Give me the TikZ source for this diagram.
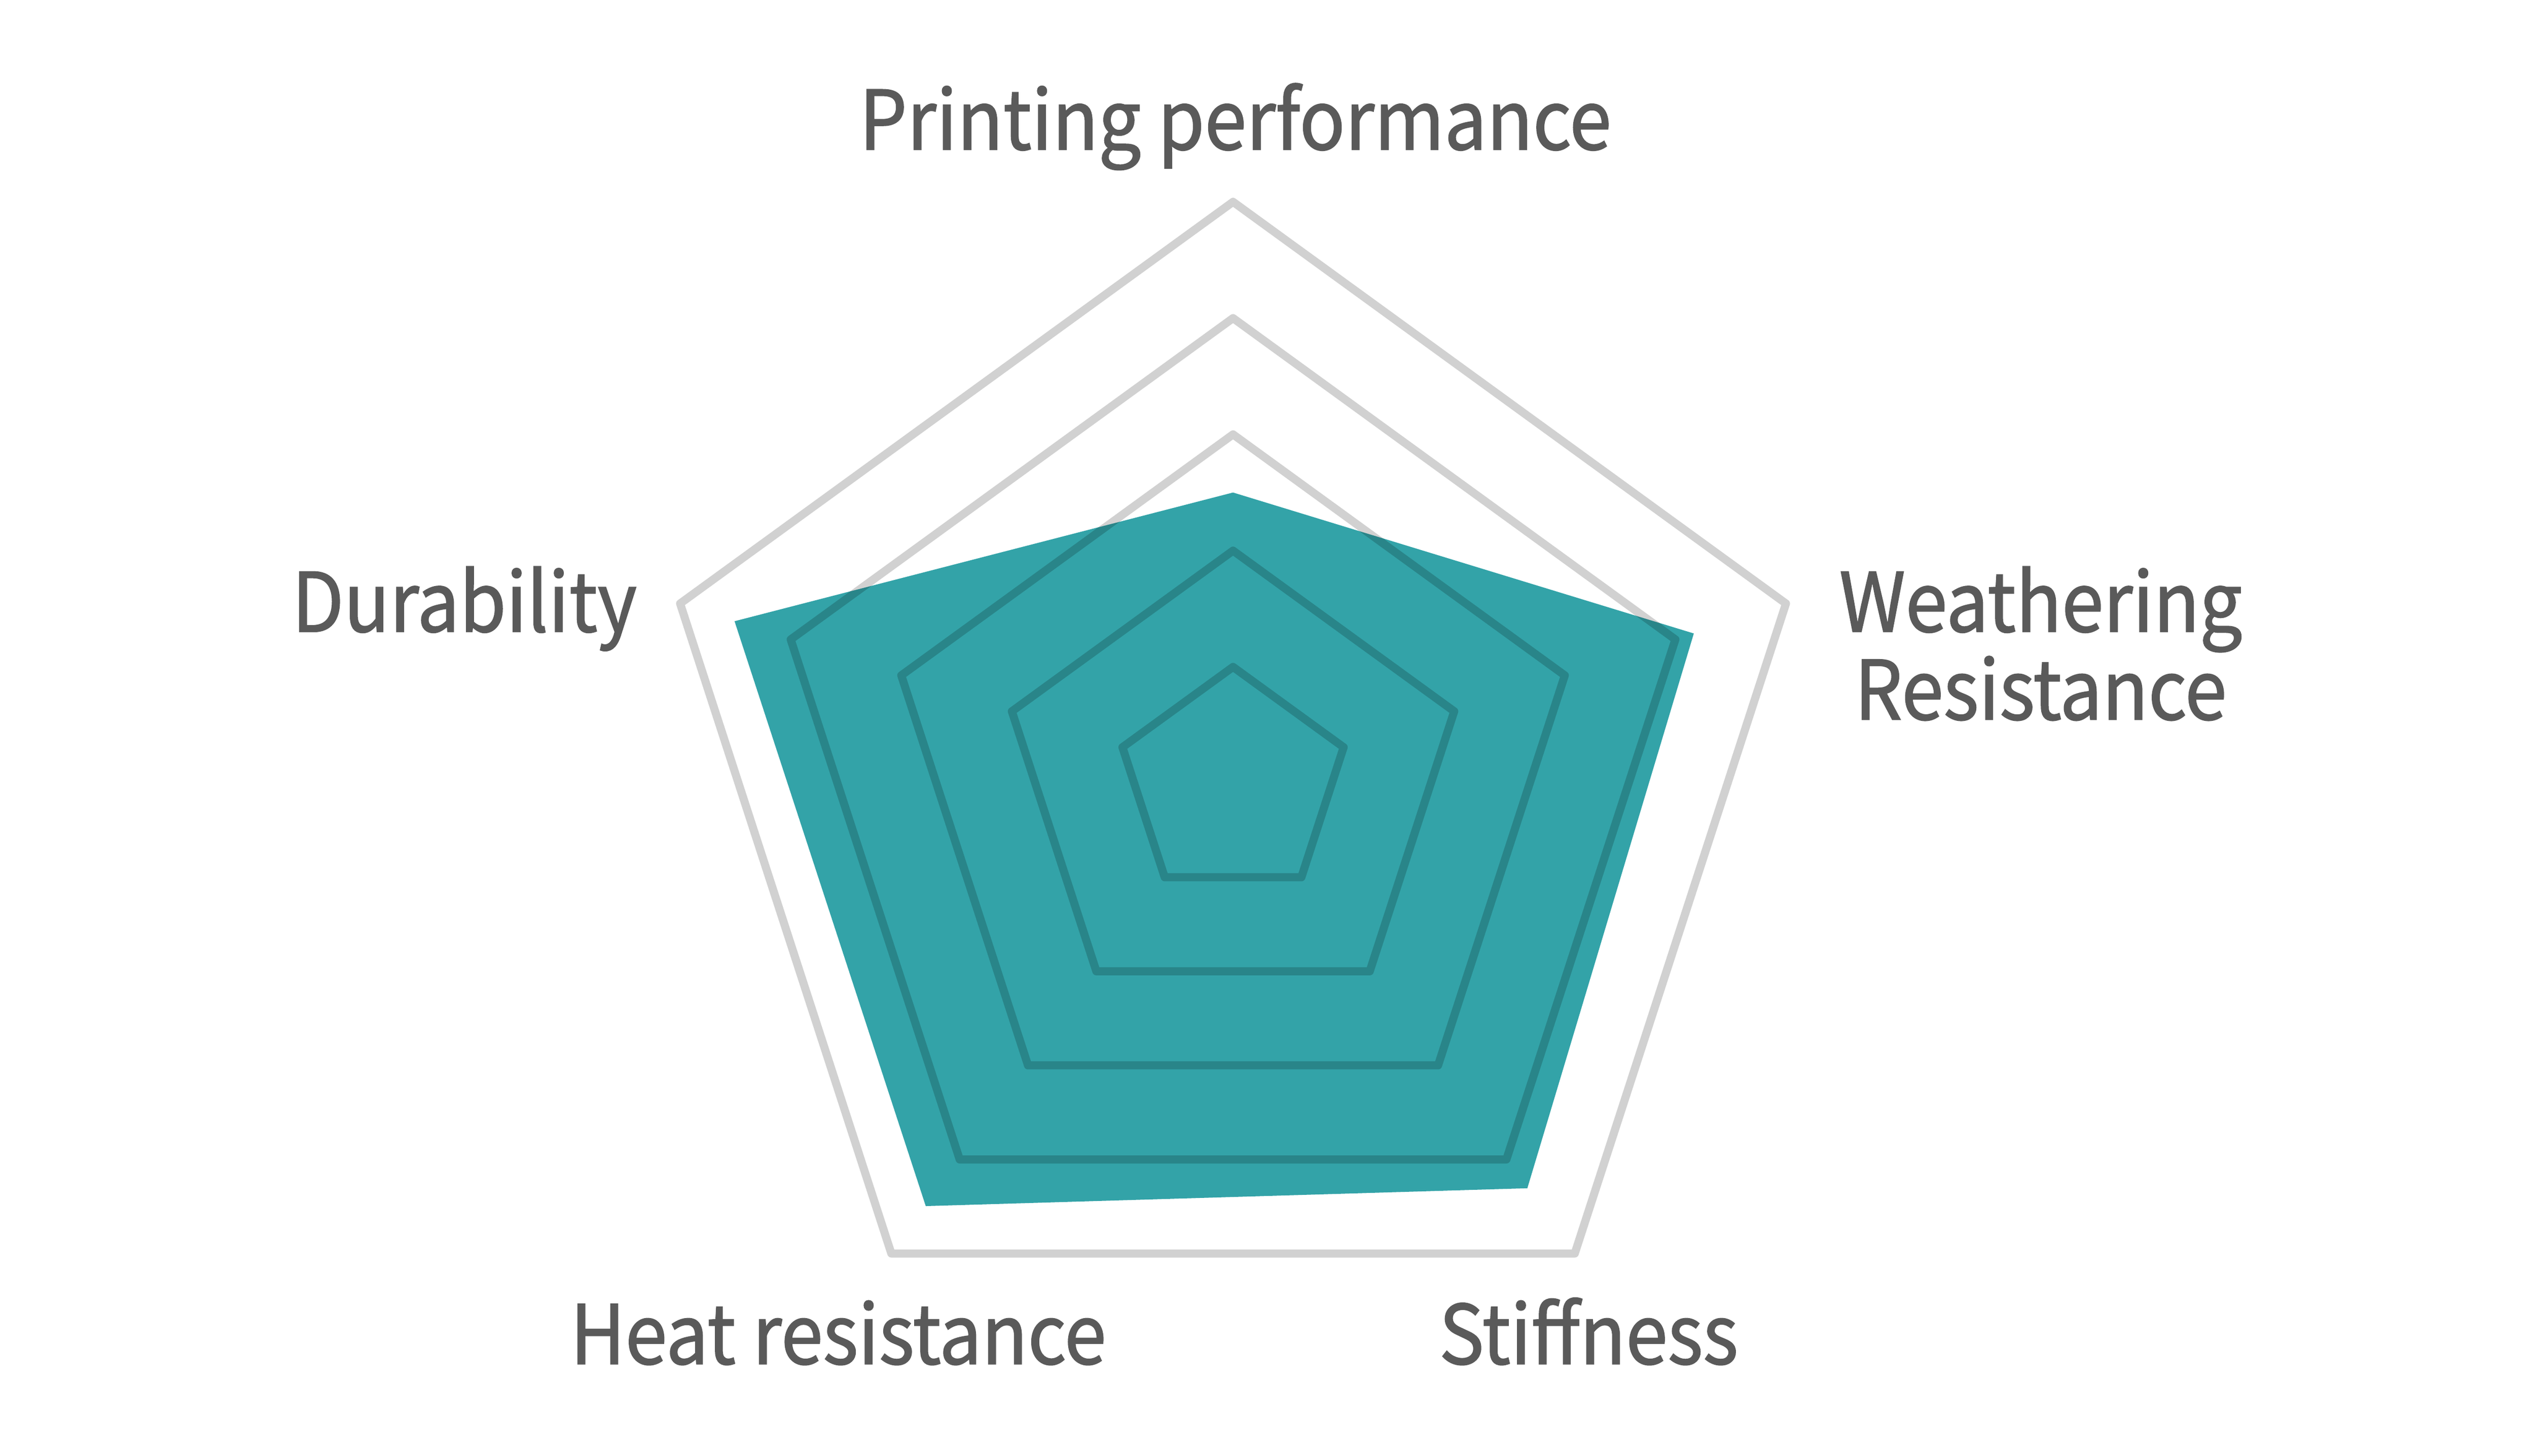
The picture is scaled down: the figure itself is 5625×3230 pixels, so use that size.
\documentclass[tikz,border=0pt]{standalone}
\usepackage{fontspec}
\newfontfamily\lblfont[FakeStretch=0.92,FakeBold=1.2]{Noto Sans CJK SC}
\usetikzlibrary{calc}
\definecolor{tealfill}{HTML}{33A3A8}
\definecolor{txtgray}{HTML}{5A5A5A}
\begin{document}
\begin{tikzpicture}[x=0.1pt,y=0.1pt,
  ring/.style={draw=black, draw opacity=0.18, line width=1.8pt, line join=round},
  lbl/.style={font=\lblfont\fontsize{18.2pt}{19.5pt}\selectfont, text=txtgray, inner sep=0pt}]
\useasboundingbox (0,0) rectangle (5625,3230);
\coordinate (c) at (2736,1492);
% data polygon
\fill[tealfill] ($(c)+(90:645)$) -- ($(c)+(18:1075)$) -- ($(c)+(-54:1111)$)
  -- ($(c)+(-126:1160)$) -- ($(c)+(162:1163)$) -- cycle;
% rings
\foreach \r in {258,516,774,1032,1290}
  \draw[ring] ($(c)+(90:\r)$) -- ($(c)+(18:\r)$) -- ($(c)+(-54:\r)$)
    -- ($(c)+(-126:\r)$) -- ($(c)+(162:\r)$) -- cycle;
% labels
\node[lbl, anchor=base] (pp) at (2741,2898) {Printing performance};
\node[lbl, anchor=base east] (du) at (1415,1828) {Durability};
\node[lbl, anchor=base, align=center] (wr) at (4528,1633) {Weathering\\Resistance};
\node[lbl, anchor=base] (hr) at (1860,203) {Heat resistance};
\node[lbl, anchor=base] (st) at (3525,203) {Stiffness};
\end{tikzpicture}
\end{document}
